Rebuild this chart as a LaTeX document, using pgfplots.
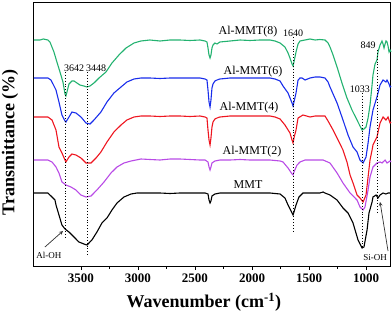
\documentclass[border=0pt]{standalone}
\usepackage{pgfplots}
\pgfplotsset{compat=1.18}
\usepackage{fontspec}
\setmainfont{Liberation Serif}
\definecolor{cgreen}{RGB}{35,178,112}
\definecolor{cblue}{RGB}{25,45,235}
\definecolor{cred}{RGB}{238,22,32}
\definecolor{cpurple}{RGB}{185,75,230}
\begin{document}
\begin{tikzpicture}
\begin{axis}[
  scale only axis, width=357bp, height=263bp,
  x dir=reverse, y dir=reverse,
  xmin=781, xmax=3912, ymin=3, ymax=266,
  clip=false,
  axis line style={line width=1bp},
  xtick={1000,1500,2000,2500,3000,3500},
  minor x tick num=1,
  xtick pos=bottom,
  ytick=\empty,
  tick align=outside,
  major tick length=4bp, minor tick length=2.5bp,
  every tick/.style={line width=0.9bp, black},
  /pgf/number format/assume math mode=true,
  /pgf/number format/1000 sep={},
  xticklabel style={font=\fontsize{13bp}{15bp}\selectfont\bfseries},
  xlabel={Wavenumber (cm\textsuperscript{-1})},
  ylabel={Transmittance (\%)},
  xlabel style={font=\fontsize{18bp}{20bp}\selectfont\bfseries, at={(axis description cs:0.476,-0.137)}, anchor=center},
  ylabel style={font=\fontsize{18bp}{20bp}\selectfont\bfseries, at={(axis description cs:-0.0672,0.471)}, anchor=center},
  every axis plot/.append style={line width=1.1bp, no markers},
]
% Al-MMT(8)
\addplot[cgreen] coordinates {(3912,40)(3860,40)(3830,39)(3790,40)(3772,42)(3737,52)(3711,62)(3684,72)(3658,82)(3640,94)(3632,96)(3623,92)(3605,84)(3579,81)(3561,81)(3535,83)(3509,85)(3474,86)(3447,87)(3421,86)(3386,83)(3342,78)(3281,72)(3228,63)(3167,55)(3105,48)(3035,43)(2974,41)(2895,40)(2807,41)(2719,40)(2632,40)(2544,40.5)(2456,40)(2412,41)(2395,42)(2386,48)(2377,55)(2368,58)(2360,55)(2351,48)(2342,45)(2325,43)(2307,44)(2281,42)(2193,41)(2105,40)(2018,40.5)(1930,40)(1842,40)(1798,41)(1754,43)(1711,47)(1684,53)(1667,58)(1649,64)(1640,66)(1632,62)(1614,52)(1596,44)(1579,41)(1535,40)(1491,39)(1447,40)(1404,39.5)(1360,40)(1333,43)(1316,47)(1289,55)(1254,67)(1211,83)(1167,98)(1123,110)(1079,120)(1053,126)(1035,130)(1018,129)(1000,127)(982,118)(965,105)(947,85)(939,75)(921,64)(904,60)(895,52)(877,45)(860,41)(851,44)(842,48)(833,44)(825,41)(816,42)(807,46)(798,52)(789,50)(781,52)};
% Al-MMT(6)
\addplot[cblue] coordinates {(3912,78)(3860,78)(3790,78)(3763,80)(3719,90)(3693,102)(3667,115)(3640,121)(3632,122)(3605,117)(3579,112)(3544,113)(3500,117)(3456,123)(3421,124)(3386,120)(3325,112)(3272,102)(3211,93)(3149,87)(3097,82)(3035,79)(2974,78)(2895,78)(2807,78.5)(2719,78)(2632,78)(2544,78)(2456,78)(2412,79)(2395,80)(2386,90)(2377,102)(2368,107)(2360,100)(2351,88)(2342,84)(2325,81)(2307,80)(2281,79)(2193,78)(2105,78)(2018,78)(1930,78)(1842,78)(1798,79)(1754,81)(1728,86)(1684,93)(1649,103)(1640,106)(1632,102)(1614,93)(1596,80)(1579,78)(1561,78)(1535,80)(1491,78)(1447,77)(1404,77)(1360,78)(1333,82)(1316,87)(1254,103)(1202,120)(1158,135)(1114,147)(1079,152)(1053,160)(1026,163)(1000,157)(982,143)(965,127)(939,110)(904,97)(877,85)(851,80)(825,82)(816,80)(798,84)(789,87)(781,86)};
% Al-MMT(4)
\addplot[cred] coordinates {(3912,117)(3860,117)(3790,117)(3754,120)(3719,130)(3693,147)(3667,153)(3640,160)(3632,162)(3605,157)(3579,154)(3544,155)(3500,158)(3456,163)(3412,163)(3368,158)(3325,152)(3272,142)(3211,132)(3149,125)(3097,120)(3035,117)(2974,116)(2895,116)(2807,116.5)(2719,116)(2632,116)(2544,116.5)(2456,116)(2412,117)(2395,118)(2386,130)(2377,140)(2368,145)(2360,138)(2351,127)(2342,122)(2325,119)(2307,118)(2281,117)(2193,116)(2105,116)(2018,116)(1930,116)(1842,116)(1798,117)(1754,119)(1711,125)(1667,133)(1649,140)(1640,143)(1632,138)(1614,130)(1596,118)(1553,115)(1491,117)(1447,116)(1404,116)(1360,116)(1333,121)(1289,130)(1254,138)(1202,150)(1167,162)(1140,175)(1114,183)(1079,195)(1053,198)(1026,202)(1000,195)(982,177)(965,160)(947,150)(939,145)(904,137)(877,123)(851,117)(825,120)(807,117)(789,123)(781,122)};
% Al-MMT(2)
\addplot[cpurple] coordinates {(3912,160)(3860,160)(3790,160)(3754,162)(3719,167)(3693,173)(3667,182)(3632,185)(3588,187)(3544,190)(3500,195)(3456,197)(3412,196)(3360,190)(3298,182)(3237,173)(3184,167)(3123,163)(3061,161)(2974,159)(2895,159.5)(2807,160)(2719,159)(2632,159)(2544,159.5)(2456,160)(2412,160)(2386,162)(2377,167)(2368,170)(2360,167)(2351,163)(2325,161)(2281,160)(2193,160)(2105,159.5)(2018,160)(1930,160)(1842,160)(1754,161)(1728,162)(1684,168)(1649,174)(1640,175)(1632,172)(1605,165)(1579,162)(1535,160)(1447,160)(1377,160)(1316,163)(1254,173)(1202,183)(1140,193)(1079,200)(1053,207)(1026,210)(1009,207)(982,190)(965,177)(939,167)(904,163)(877,162)(860,163)(833,160)(816,163)(789,161)(781,162)};
% MMT
\addplot[black] coordinates {(3912,193)(3860,193)(3790,193)(3763,196)(3728,200)(3719,205)(3693,215)(3667,225)(3640,229)(3605,232)(3561,237)(3518,242)(3474,244)(3447,245)(3404,240)(3360,232)(3316,223)(3272,218)(3228,210)(3184,203)(3123,197)(3061,194)(3009,193)(2895,193)(2807,193)(2719,193.5)(2632,193)(2544,193)(2456,193)(2412,193)(2386,194)(2377,200)(2368,203)(2360,201)(2351,196)(2325,194)(2281,193)(2193,193)(2105,193)(2018,193)(1930,193)(1842,193)(1754,194)(1711,198)(1684,205)(1649,213)(1640,215)(1632,212)(1614,205)(1588,197)(1553,193)(1491,193)(1404,193)(1377,192)(1360,193)(1316,195)(1254,200)(1202,208)(1158,213)(1114,223)(1096,230)(1070,240)(1035,248)(1018,247)(991,230)(974,213)(947,202)(939,197)(912,195)(895,198)(877,195)(851,193)(825,194)(807,193)(789,193)(781,193)};
% dotted guide lines
\draw[dotted, line width=0.9bp] (axis cs:3640,72) -- (axis cs:3640,237);
\draw[dotted, line width=0.9bp] (axis cs:3447,72) -- (axis cs:3447,257);
\draw[dotted, line width=0.9bp] (axis cs:1640,37) -- (axis cs:1640,233);
\draw[dotted, line width=0.9bp] (axis cs:1033,93) -- (axis cs:1033,247);
\draw[dotted, line width=0.9bp] (axis cs:904,50) -- (axis cs:904,213);
% peak labels
\begin{scope}[every node/.style={font=\fontsize{10bp}{12bp}\selectfont, inner sep=0pt}]
\node at (axis cs:3561,68) {3642};
\node at (axis cs:3368,68) {3448};
\node at (axis cs:1640,33) {1640};
\node at (axis cs:1053,89) {1033};
\node at (axis cs:982,45) {849};
\end{scope}
% curve labels
\begin{scope}[every node/.style={font=\fontsize{12bp}{14bp}\selectfont, inner sep=0pt}]
\node at (axis cs:2035,32) {Al-MMT(8)};
\node at (axis cs:1991,72) {Al-MMT(6)};
\node at (axis cs:2026,108) {Al-MMT(4)};
\node at (axis cs:2000,152) {Al-MMT(2)};
\node at (axis cs:2035,185) {MMT};
\end{scope}
% group annotations
\node[font=\fontsize{9bp}{11bp}\selectfont, inner sep=0pt] at (axis cs:3781,255) {Al-OH};
\node[font=\fontsize{9bp}{11bp}\selectfont, inner sep=0pt] at (axis cs:921,258) {Si-OH};
\draw[-stealth, line width=0.7bp, black!80] (axis cs:3816,247) -- (axis cs:3658,231);
\draw[-stealth, line width=0.7bp, black!80] (axis cs:807,251) -- (axis cs:877,202);
\end{axis}
\pgfresetboundingbox
\useasboundingbox ([shift={(-34bp,-48bp)}]current axis.south west) rectangle ([shift={(1bp,3bp)}]current axis.north east);
\end{tikzpicture}
\end{document}
